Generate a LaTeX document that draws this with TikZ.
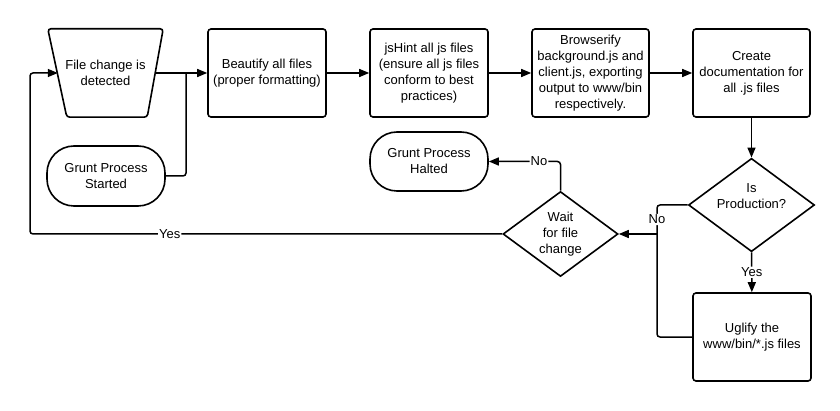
\documentclass[tikz,border=0pt]{standalone}
\usepackage{fontspec}
\setmainfont{Liberation Sans}
\usetikzlibrary{shapes.geometric,arrows.meta,calc}

\tikzset{
  base/.style={draw, line width=1.6pt, fill=white, align=center, inner sep=0pt,
    font=\fontsize{13}{16}\selectfont},
  procbox/.style={base, rounded corners=3pt, minimum width=118pt, minimum height=88pt},
  termbox/.style={base, rounded corners=27pt, minimum width=118pt, minimum height=60pt},
  decbox/.style={base, diamond, aspect=1.35, minimum width=115pt, minimum height=86pt},
  trapbox/.style={align=center, inner sep=0pt, font=\fontsize{13}{16}\selectfont,
    minimum width=115pt, minimum height=88pt},
  flow/.style={line width=1.5pt, rounded corners=3pt},
  arr/.style={flow, -{Triangle[length=10pt,width=8pt]}},
  lbl/.style={fill=white, inner sep=1pt, font=\fontsize{13}{16}\selectfont}
}

\begin{document}
\begin{tikzpicture}[x=1pt, y=-1pt]
        \useasboundingbox[fill=white] (0,0) rectangle (840,411);

        % Obere Reihe der Schritte
        \node[trapbox] (detect) at (105.5,73) {};
        \draw[line width=1.6pt, fill=white, rounded corners=3pt] (detect.north west) -- (detect.north east)
          -- ($(detect.south east)+(-16,0)$) -- ($(detect.south west)+(19,0)$) -- cycle;
        \node[trapbox] at (detect) {File change is\\detected};
        \node[procbox] (beautify) at (267,73) {Beautify all files\\(proper formatting)};
        \node[procbox] (jshint) at (429,73) {jsHint all js files\\(ensure all js files\\conform to best\\practices)};
        \node[procbox, minimum width=117pt] (browserify) at (590.5,73) {Browserify\\background.js and\\client.js, exporting\\output to www/bin\\respectively.};
        \node[procbox, minimum width=117pt] (createdoc) at (751.5,73) {Create\\documentation for\\all .js files};

        % Start und Ende
        \node[termbox] (started) at (106,176) {Grunt Process\\Started};
        \node[termbox, minimum height=59pt] (halted) at (429,161.5) {Grunt Process\\Halted};

        % Entscheidungen
        \node[decbox] (isprod) at (751.5,205) {Is\\Production?\\[1pt]};
        \node[decbox, minimum height=85pt] (waitchange) at (560.5,234) {Wait\\for file\\change};
        \node[procbox] (uglify) at (752,337) {Uglify the\\www/bin/*.js files};

        % Hilfspunkte
        \coordinate (detin) at ($(detect.west)+(10,0)$);
        \coordinate (detout) at ($(detect.east)+(-8.5,0)$);
        \coordinate (jn1) at (186,73);
        \coordinate (jn2) at (657,234);
        \coordinate (loop) at (30,234);

        % Verbindungen
        \draw[flow] (detout) -- (jn1);
        \draw[arr] (jn1) -- (beautify);
        \draw[flow] (started.east) -| (jn1);
        \draw[arr] (beautify) -- (jshint);
        \draw[arr] (jshint) -- (browserify);
        \draw[arr] (browserify) -- (createdoc);
        \draw[arr] (createdoc) -- (isprod);
        \draw[arr] (isprod) -- node[lbl] {Yes} (uglify);
        \draw[flow] (isprod.west) -| node[lbl, pos=0.75] {No} (jn2);
        \draw[flow] (uglify.west) -| (jn2);
        \draw[arr] (jn2) -- (waitchange.east);
        \draw[arr] (waitchange.north) |- node[lbl, pos=0.65] {No} (halted.east);
        \draw[arr] (waitchange.west) -- node[lbl, pos=0.704] {Yes} (loop) |- (detin);
    \end{tikzpicture}
\end{document}
